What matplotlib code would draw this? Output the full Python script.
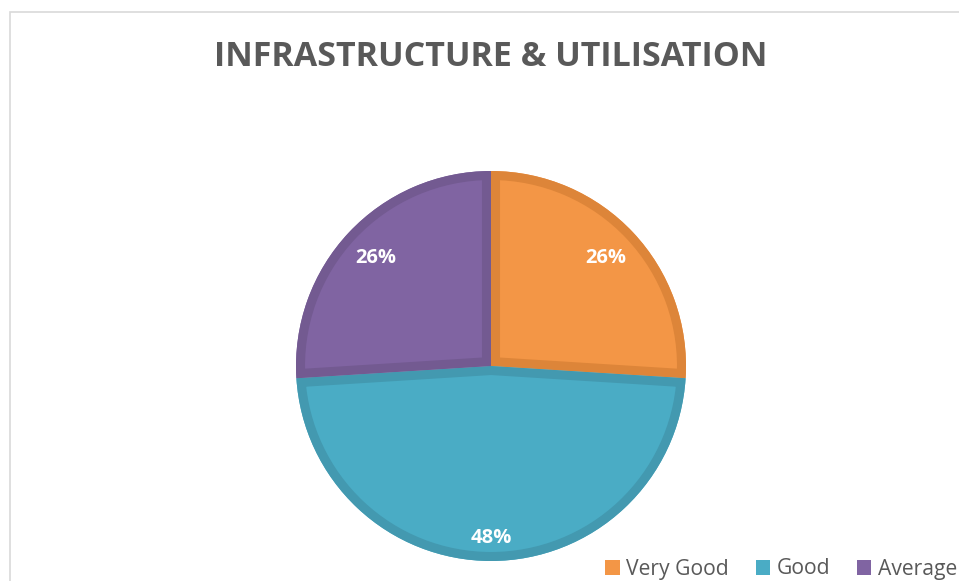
import numpy as np
import matplotlib
matplotlib.use("Agg")
import matplotlib.pyplot as plt
from matplotlib.patches import Patch, Rectangle, Wedge

categories = ["Very Good", "Good", "Average"]
values = [26, 48, 26]
fill_colors = ["#F39646", "#4AACC5", "#8064A2"]
edge_colors = ["#DD8539", "#4399B0", "#735A91"]
title = "INFRASTRUCTURE & UTILISATION"

W, H = 959, 581
fig = plt.figure(figsize=(W / 100, H / 100), dpi=100)
fig.patch.set_facecolor("white")

# outer chart border (cropped at right/bottom)
fig.add_artist(Rectangle((10 / W, -0.1), 1.2, 1 - 12 / H + 0.1, transform=fig.transFigure,
                         fill=False, edgecolor="#D9D9D9", linewidth=1.2))

cx, cy, r = 491, 366, 195
ax = fig.add_axes([(cx - r) / W, (H - cy - r) / H, 2 * r / W, 2 * r / H])

wedges, _ = ax.pie(values, colors=fill_colors, startangle=90, counterclock=False,
                   radius=1, center=(0, 0), frame=False,
                   wedgeprops=dict(linewidth=0))
ax.set_xlim(-1, 1)
ax.set_ylim(-1, 1)
ax.set_aspect("equal")
ax.axis("off")

# inner darker border for each slice (clipped to the slice)
for w, ec in zip(wedges, edge_colors):
    b = Wedge(w.center, w.r, w.theta1, w.theta2, facecolor="none", edgecolor=ec,
              linewidth=13, joinstyle="miter")
    ax.add_patch(b)
    b.set_clip_path(w)

total = sum(values)
label_dist = [0.81, 0.88, 0.81]
for w, v, d in zip(wedges, values, label_dist):
    ang = np.deg2rad((w.theta1 + w.theta2) / 2)
    ax.text(d * np.cos(ang), d * np.sin(ang), f"{v / total * 100:.0f}%",
            ha="center", va="center", color="white", fontsize=14.5,
            fontweight="bold", family="Open Sans")

fig.text(491 / W, 1 - 57 / H, title, ha="center", va="center", color="#595959",
         fontsize=24.5, fontweight="bold", family="Open Sans")

handles = [Patch(facecolor=c, edgecolor="none") for c in fill_colors]
leg = fig.legend(handles, categories, loc="center right", bbox_to_anchor=(1 - 2 / W, 1 - 569 / H),
                 ncol=3, frameon=False, fontsize=15.2, handlelength=0.7, handleheight=0.7,
                 handletextpad=0.3, columnspacing=1.25, borderaxespad=0, borderpad=0)
for t in leg.get_texts():
    t.set_color("#595959")
    t.set_family("Open Sans")

fig.savefig("out.png", dpi=100)
